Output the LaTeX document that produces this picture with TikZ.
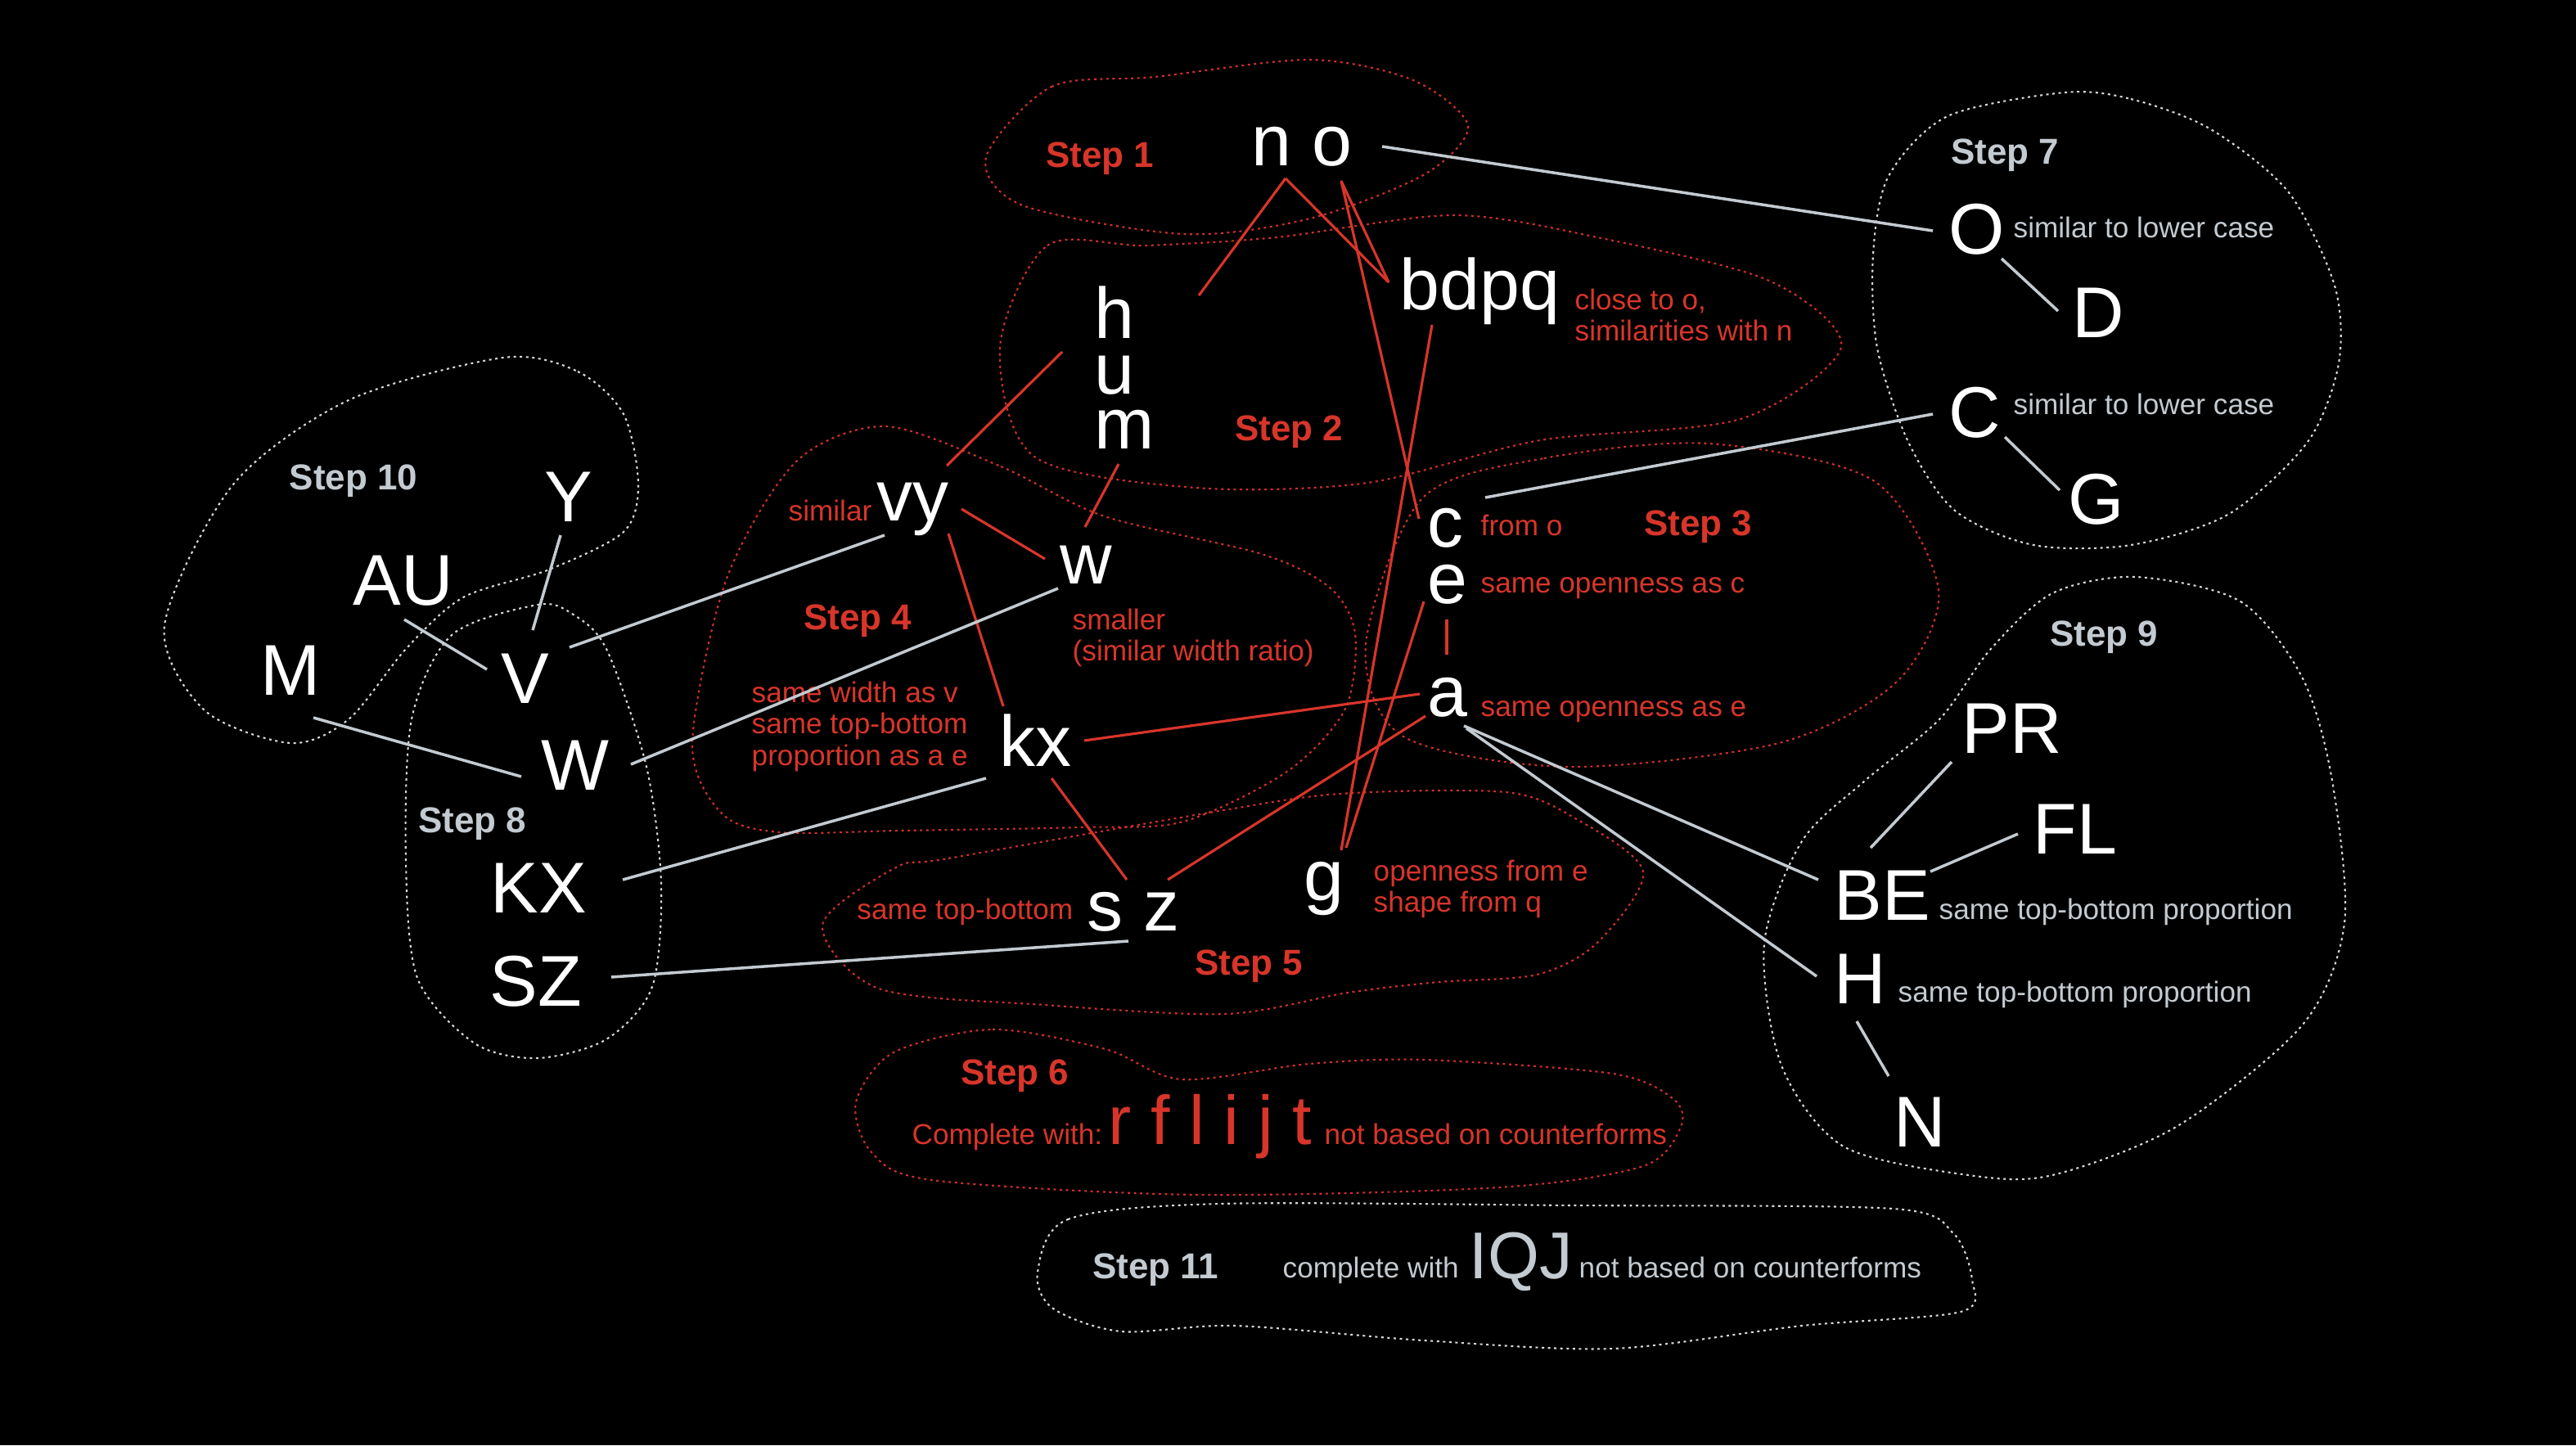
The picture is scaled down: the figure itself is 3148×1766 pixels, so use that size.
\documentclass[tikz,border=0pt]{standalone}
\usepackage{fontspec}
\setmainfont{Liberation Sans}
\usetikzlibrary{calc}
\definecolor{myred}{HTML}{D8352A}
\definecolor{mygrey}{HTML}{C3CAD0}
\definecolor{dotred}{HTML}{CC3029}
\definecolor{dotgrey}{HTML}{D4D8DC}
\begin{document}
\begin{tikzpicture}[x=0.01cm,y=-0.01cm,
  big/.style={text=white,font=\fontsize{25}{30}\selectfont,inner sep=0pt},
  rnote/.style={text=myred,font=\fontsize{10}{12}\selectfont,inner sep=0pt},
  gnote/.style={text=mygrey,font=\fontsize{10}{12}\selectfont,inner sep=0pt},
  rstep/.style={text=myred,font=\bfseries\fontsize{12.5}{15}\selectfont,inner sep=0pt,anchor=base},
  gstep/.style={text=mygrey,font=\bfseries\fontsize{12.5}{15}\selectfont,inner sep=0pt,anchor=base},
  redline/.style={draw=myred,line width=0.9pt},
  greyline/.style={draw=mygrey,line width=1pt},
  redblob/.style={draw=dotred,line width=0.6pt,dash pattern=on 0.85pt off 1.3pt},
  greyblob/.style={draw=dotgrey,line width=0.6pt,dash pattern=on 0.85pt off 1.3pt}]
\fill[black] (0,0) rectangle (3148,1766);
\useasboundingbox (0,0) rectangle (3148,1766);

% ---------- blobs ----------
\draw[redblob] plot[smooth cycle] coordinates {(1205,192) (1285,106) (1411,94) (1601,73) (1727,98) (1794,154) (1741,213) (1601,267) (1447,286) (1250,251)};
\draw[redblob] plot[smooth cycle] coordinates {(1222,424) (1280,300) (1400,300) (1560,290) (1776,263) (1952,290) (2162,343) (2250,424) (2127,512) (1882,538) (1671,590) (1461,596) (1264,558)};
\draw[redblob] plot[smooth cycle] coordinates {(1738,609) (1887,560) (2088,542) (2289,587) (2369,721) (2318,833) (2174,908) (1916,937) (1715,900) (1669,788)};
\draw[redblob] plot[smooth cycle] coordinates {(1082,521) (1223,570) (1350,631) (1542,677) (1625,718) (1656,774) (1644,866) (1574,942) (1446,1004) (1318,1011) (1100,1015) (952,1017) (882,994) (846,908) (888,707) (973,564)};
\draw[redblob] plot[smooth cycle] coordinates {(1095,1060) (1159,1049) (1478,993) (1637,970) (1840,968) (1925,1000) (2008,1065) (1952,1152) (1878,1191) (1758,1200) (1647,1213) (1499,1239) (1277,1228) (1074,1208) (1005,1130)};
\draw[redblob] plot[smooth cycle] coordinates {(1092,1286) (1213,1258) (1351,1282) (1444,1319) (1600,1300) (1740,1295) (1971,1312) (2045,1343) (2054,1377) (2008,1425) (1832,1451) (1462,1460) (1139,1442) (1065,1408) (1046,1347)};
\draw[greyblob] plot[smooth cycle] coordinates {(1268,1555) (1305,1490) (1490,1471) (1925,1473) (2313,1477) (2387,1507) (2410,1564) (2396,1603) (2202,1620) (1971,1648) (1740,1638) (1509,1620) (1370,1627) (1287,1599)};
\draw[greyblob] plot[smooth cycle] coordinates {(2523,113) (2604,121) (2700,157) (2796,234) (2853,349) (2858,444) (2820,540) (2724,628) (2604,666) (2485,666) (2389,624) (2332,540) (2294,425) (2289,311) (2308,215) (2380,142)};
\draw[greyblob] plot[smooth cycle] coordinates {(2610,705) (2738,735) (2814,829) (2850,954) (2865,1128) (2814,1252) (2661,1376) (2508,1436) (2406,1436) (2253,1401) (2177,1302) (2156,1153) (2202,1028) (2279,954) (2370,879) (2432,794) (2508,725)};
\draw[greyblob] plot[smooth cycle] coordinates {(615,437) (706,454) (762,506) (780,592) (762,650) (671,696) (566,730) (496,793) (426,879) (355,908) (250,868) (201,764) (285,592) (426,489)};
\draw[greyblob] plot[smooth cycle] coordinates {(657,739) (699,750) (741,793) (790,937) (808,1080) (797,1206) (741,1270) (657,1293) (580,1275) (510,1195) (496,1051) (503,879) (552,776)};

% ---------- step labels ----------
\node[rstep] (s1) at (1344,204) {Step 1};
\node[rstep] (s2) at (1575,538) {Step 2};
\node[rstep] (s3) at (2075,654) {Step 3};
\node[rstep] (s4) at (1048,769) {Step 4};
\node[rstep] (s5) at (1526,1191) {Step 5};
\node[rstep] (s6) at (1240,1325) {Step 6};
\node[gstep] (s7) at (2450,200) {Step 7};
\node[gstep] (s8) at (577,1017) {Step 8};
\node[gstep] (s9) at (2571,789) {Step 9};
\node[gstep] (s10) at (432,598) {Step 10};
\node[gstep] (s11) at (1412,1562) {Step 11};

% ---------- lowercase letters ----------
\node[big,anchor=base] (no) at (1591,202) {n o};
\node[big,anchor=base west] (h) at (1337,413) {h};
\node[big,anchor=base west] (u) at (1337,481) {u};
\node[big,anchor=base west] (m) at (1337,548) {m};
\node[big,anchor=base west] (bdpq) at (1710,378) {bdpq};
\node[big,anchor=base west] (vy) at (1071,636) {vy};
\node[big,anchor=base] (w) at (1327,713) {w};
\node[big,anchor=base west] (kx) at (1221,936) {kx};
\node[big,anchor=base west] (c) at (1744,668) {c};
\node[big,anchor=base west] (e) at (1744,737) {e};
\node[big,anchor=base west] (a) at (1744,875) {a};
\node[big,anchor=base] (g) at (1618,1100) {g};
\node[big,anchor=base] (sz) at (1385,1137) {s z};

% ---------- capitals ----------
\node[big,anchor=base west] (O) at (2381,310) {O};
\node[big,anchor=base west] (D) at (2532,412) {D};
\node[big,anchor=base west] (C) at (2381,534) {C};
\node[big,anchor=base west] (G) at (2527,640) {G};
\node[big,anchor=base west] (PR) at (2397,920) {PR};
\node[big,anchor=base west] (FL) at (2484,1043) {FL};
\node[big,anchor=base west] (BE) at (2241,1124) {BE};
\node[big,anchor=base west] (H) at (2241,1226) {H};
\node[big,anchor=base west] (N) at (2314,1401) {N};
\node[big,anchor=base] (Y) at (695,637) {Y};
\node[big,anchor=base] (AU) at (493,739) {AU};
\node[big,anchor=base] (M) at (355,849) {M};
\node[big,anchor=base] (V) at (642,859) {V};
\node[big,anchor=base] (W) at (703,965) {W};
\node[big,anchor=base] (KX) at (658,1115) {KX};
\node[big,anchor=base] (SZ) at (655,1229) {SZ};

% ---------- annotations ----------
\node[rnote,anchor=base west] (n1) at (1924,378) {close to o,};
\node[rnote,anchor=base west] (n2) at (1924,416) {similarities with n};
\node[rnote,anchor=base east] (n3) at (1066,636) {similar};
\node[rnote,anchor=base west] (n4) at (1310,769) {smaller};
\node[rnote,anchor=base west] (n5) at (1310,807) {(similar width ratio)};
\node[rnote,anchor=base west] (n6) at (918,858) {same width as v};
\node[rnote,anchor=base west] (n7) at (918,896) {same top-bottom};
\node[rnote,anchor=base west] (n8) at (918,935) {proportion as a e};
\node[rnote,anchor=base west] (n9) at (1809,654) {from o};
\node[rnote,anchor=base west] (n10) at (1809,724) {same openness as c};
\node[rnote,anchor=base west] (n11) at (1809,875) {same openness as e};
\node[rnote,anchor=base west] (n12) at (1678,1076) {openness from e};
\node[rnote,anchor=base west] (n13) at (1678,1114) {shape from q};
\node[rnote,anchor=base east] (n14) at (1312,1123) {same top-bottom};
\node[rnote,anchor=base west] (n15) at (1114,1398) {Complete with:};
\node[anchor=base west,inner sep=0pt,text=myred,font=\fontsize{24}{28}\selectfont] (rflijt) at (1354,1398) {r f l i j t};
\node[rnote,anchor=base west] (n16) at (1618,1398) {not based on counterforms};
\node[gnote,anchor=base west] (g1) at (1567,1561) {complete with};
\node[anchor=base west,inner sep=0pt,text=mygrey,font=\fontsize{23}{28}\selectfont] (IQJ) at (1795,1562) {IQJ};
\node[gnote,anchor=base west] (g2) at (1929,1561) {not based on counterforms};
\node[gnote,anchor=base west] (g3) at (2460,290) {similar to lower case};
\node[gnote,anchor=base west] (g4) at (2460,506) {similar to lower case};
\node[gnote,anchor=base west] (g5) at (2369,1123) {same top-bottom proportion};
\node[gnote,anchor=base west] (g6) at (2319,1224) {same top-bottom proportion};

% ---------- red connectors ----------
\draw[redline] ($(no.base)+(-20,16)$) -- ($(h.base west)+(128,-52)$);
\draw[redline] ($(no.base)+(-20,16)$) -- ($(bdpq.base west)+(-13,-33)$);
\draw[redline] ($(no.base)+(48,19)$) -- ($(bdpq.base west)+(-13,-33)$);
\draw[redline] ($(no.base)+(48,19)$) -- ($(c.base west)+(-10,-34)$);
\draw[redline] ($(bdpq.base west)+(40,19)$) -- ($(g.base)+(21,-61)$);
\draw[redline] ($(h.base west)+(-39,17)$) -- ($(vy.base west)+(86,-67)$);
\draw[redline] ($(m.base west)+(30,19)$) -- ($(w.base)+(-1,-69)$);
\draw[redline] ($(vy.base west)+(104,-14)$) -- ($(w.base)+(-50,-30)$);
\draw[redline] ($(vy.base west)+(88,16)$) -- ($(kx.base west)+(5,-73)$);
\draw[redline] ($(kx.base west)+(104,-31)$) -- ($(a.base west)+(-9,-27)$);
\draw[redline] ($(kx.base west)+(64,15)$) -- ($(sz.base)+(-8,-62)$);
\draw[redline] ($(sz.base)+(42,-62)$) -- ($(a.base west)+(-2,0)$);
\draw[redline] ($(e.base west)+(-4,-2)$) -- ($(g.base)+(27,-64)$);
\draw[redline] ($(e.base west)+(24,20)$) -- ($(a.base west)+(24,-75)$);

% ---------- grey connectors ----------
\draw[greyline] ($(no.base)+(98,-23)$) -- ($(O.base west)+(-19,-28)$);
\draw[greyline] ($(c.base west)+(71,-60)$) -- ($(C.base west)+(-19,-28)$);
\draw[greyline] ($(O.base west)+(65,6)$) -- ($(D.base west)+(-17,-32)$);
\draw[greyline] ($(C.base west)+(69,0)$) -- ($(G.base west)+(-10,-41)$);
\draw[greyline] ($(a.base west)+(45,12)$) -- ($(BE.base west)+(-19,-49)$);
\draw[greyline] ($(a.base west)+(48,15)$) -- ($(H.base west)+(-21,-33)$);
\draw[greyline] ($(BE.base west)+(45,-88)$) -- ($(PR.base west)+(-12,11)$);
\draw[greyline] ($(BE.base west)+(118,-59)$) -- ($(FL.base west)+(-18,-24)$);
\draw[greyline] ($(H.base west)+(28,22)$) -- ($(N.base west)+(-6,-86)$);
\draw[greyline] ($(vy.base west)+(10,18)$) -- ($(V.base)+(54,-68)$);
\draw[greyline] ($(w.base)+(-34,6)$) -- ($(W.base)+(68,-31)$);
\draw[greyline] ($(kx.base west)+(-16,15)$) -- ($(KX.base)+(103,-40)$);
\draw[greyline] ($(sz.base)+(-6,13)$) -- ($(SZ.base)+(92,-35)$);
\draw[greyline] ($(Y.base)+(-10,17)$) -- ($(V.base)+(9,-89)$);
\draw[greyline] ($(AU.base)+(1,18)$) -- ($(V.base)+(-47,-41)$);
\draw[greyline] ($(M.base)+(28,28)$) -- ($(W.base)+(-66,-16)$);
\end{tikzpicture}
\end{document}
